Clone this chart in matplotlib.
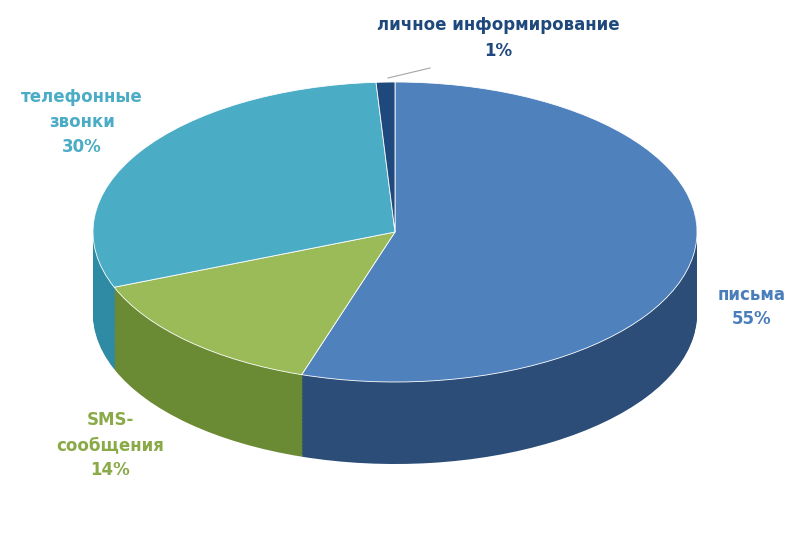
import matplotlib.pyplot as plt
import numpy as np

labels = ["письма", "SMS-\nсообщения", "телефонные\nзвонки", "личное информирование"]
values = [55, 14, 30, 1]
colors = ["#4f81bd", "#9bbb59", "#4bacc6", "#1f497d"]
side_colors = ["#2b4d78", "#6b8a34", "#2f8aa3", "#142f52"]
label_colors = ["#4a7ebb", "#8aaa48", "#4bacc6", "#1f497d"]

W, H = 802, 533
cx, cy = 395, 232          # pixel centre of top ellipse (from top)
rx, ry, depth = 302, 150, 82

fig = plt.figure(figsize=(W / 100, H / 100), dpi=100)
ax = fig.add_axes([0, 0, 1, 1])

# side: stack of darker pies shifted downward
for d in np.linspace(depth, 1, 60):
    ax.pie(values, colors=side_colors, startangle=90, counterclock=False,
           center=(0, -d / ry), radius=1, wedgeprops=dict(linewidth=0))
# top surface
ax.pie(values, colors=colors, startangle=90, counterclock=False,
       center=(0, 0), radius=1, wedgeprops=dict(linewidth=0.6, edgecolor="white"))

ax.set_aspect("auto")
ax.set_xlim(-cx / rx, (W - cx) / rx)
ax.set_ylim(-(H - cy) / ry, cy / ry)
ax.axis("off")

def px(x, y):
    return ((x - cx) / rx, (cy - y) / ry)

pos = [(752, 307), (110, 445), (82, 122), (498, 38)]
for lab, v, c, (x, y) in zip(labels, values, label_colors, pos):
    tx, ty = px(x, y)
    ax.text(tx, ty, f"{lab}\n{v}%", color=c, fontsize=12, fontweight="bold",
            ha="center", va="center", family="DejaVu Sans", linespacing=1.5)

# leader line for the small slice
x0, y0 = px(388, 78)
x1, y1 = px(430, 68)
ax.plot([x0, x1], [y0, y1], color="#a6a6a6", lw=0.8)

fig.savefig("out.png", dpi=100)
